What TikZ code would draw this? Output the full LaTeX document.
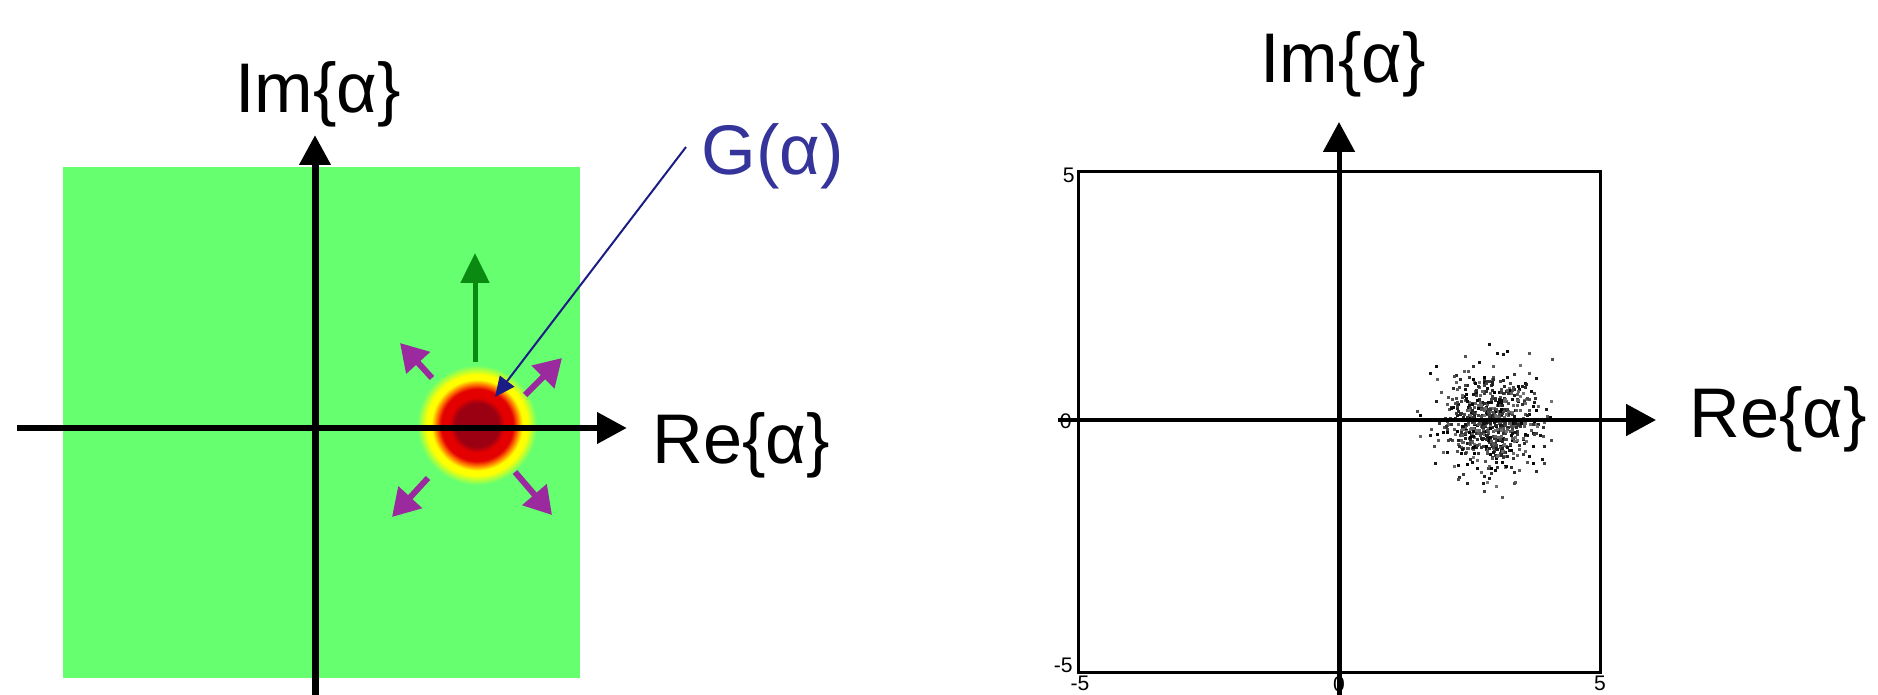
\documentclass[tikz,border=0pt]{standalone}
\usepackage{fontspec}
\setmainfont{Liberation Sans}
\usepackage{xcolor}
\usetikzlibrary{arrows.meta}
\definecolor{field-green}{HTML}{66FF70}
\definecolor{blob-dark}{HTML}{9A0012}
\definecolor{blob-red}{HTML}{E40000}
\definecolor{blob-orange}{HTML}{FF7A00}
\definecolor{blob-yellow}{HTML}{FFFF00}
\definecolor{push-purple}{HTML}{9A2A9E}
\definecolor{drift-green}{HTML}{0A8A10}
\definecolor{label-blue}{HTML}{34349A}
\definecolor{leader-blue}{HTML}{1C1C86}
\pgfdeclareradialshading{gblob}{\pgfpoint{0bp}{0bp}}{%
  color(0bp)=(blob-dark); color(9bp)=(blob-dark); color(11.5bp)=(blob-red);
  color(15bp)=(blob-red); color(17bp)=(blob-orange); color(19bp)=(blob-yellow);
  color(21bp)=(blob-yellow); color(25bp)=(field-green); color(50bp)=(field-green)}

\begin{document}
\begin{tikzpicture}[x=0.02cm, y=-0.02cm,
    axis/.style={line width=0.14cm, -{Triangle[length=0.6cm, width=0.6cm]}},
    thinaxis/.style={line width=0.1cm, -{Triangle[length=0.6cm, width=0.62cm]}},
    lbl/.style={font=\fontsize{40}{48}\selectfont, inner sep=0pt, anchor=base west},
    tick/.style={font=\fontsize{12}{14}\selectfont, inner sep=0pt},
    push/.style={push-purple, line width=0.12cm, -{Triangle[length=0.54cm, width=0.62cm]}},
]
    \useasboundingbox (0,0) rectangle (1878,695);

    % Left: phase space with the Gaussian
    \fill[field-green] (63,167) rectangle (580,678);
    \shade[shading=gblob] (477,425) circle[radius=1.2cm];
    \coordinate (ctr) at (477,425);

    \coordinate (re1a) at (17,428);
    \coordinate (re1b) at (627,428);
    \coordinate (im1a) at (315,700);
    \coordinate (im1b) at (315,135);
    \draw[axis] (re1a) -- (re1b);
    \draw[axis] (im1a) -- (im1b);

    \node[lbl] (im1) at (235,113) {Im\{α\}};
    \node[lbl] (re1) at (652,463) {Re\{α\}};
    \node[lbl, text=label-blue] (gal) at (701,175) {G(α)};

    % Drift and spreading arrows
    \coordinate (drift) at (475,362);
    \coordinate (drifttip) at (475,253);
    \draw[drift-green, line width=0.1cm, -{Triangle[length=0.6cm, width=0.56cm]}]
        (drift) -- (drifttip);
    \draw[push] (432,378) -- (400,343);
    \draw[push] (525,395) -- (562,358);
    \draw[push] (428,478) -- (392,517);
    \draw[push] (515,472) -- (552,515);

    \coordinate (gfoot) at (686,147);
    \coordinate (gtip) at (495,397);
    \draw[leader-blue, line width=0.04cm, -{Triangle[length=0.4cm, width=0.36cm]}]
        (gfoot) -- (gtip);

    % Right: sampled points
    \draw[line width=0.06cm] (1078,172) rectangle (1600,672);
    \pgfmathsetseed{11}
    \foreach \k in {1,...,700}{
        \pgfmathsetmacro{\rr}{24.5*sqrt(-2*ln(0.001+0.999*rnd))}
        \pgfmathsetmacro{\th}{360*rnd}
        \pgfmathsetmacro{\gr}{int(55+45*rnd)}
        \fill[black!\gr] ({1490+\rr*cos(\th)},{420+\rr*sin(\th)}) rectangle ++(3,3);
    }

    \node[tick, anchor=east] (y5) at (1075,175) {5};
    \node[tick, anchor=east] (y0) at (1072,421) {0};
    \node[tick, anchor=east] (ym5) at (1073,665) {-5};
    \node[tick, anchor=north] (xm5) at (1080,676) {-5};
    \node[tick, anchor=north] (x0) at (1339,676) {0};
    \node[tick, anchor=north] (x5) at (1600,676) {5};

    \coordinate (re2a) at (1058,420);
    \coordinate (re2b) at (1656,420);
    \coordinate (im2a) at (1339,700);
    \coordinate (im2b) at (1339,122);
    \draw[thinaxis] (re2a) -- (re2b);
    \draw[thinaxis] (im2a) -- (im2b);

    \node[lbl] (im2) at (1260,83) {Im\{α\}};
    \node[lbl] (re2) at (1689,438) {Re\{α\}};
\end{tikzpicture}
\end{document}
